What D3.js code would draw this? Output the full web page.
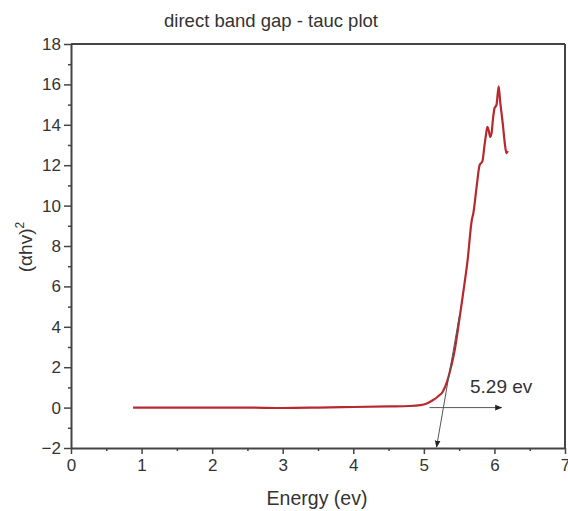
<!DOCTYPE html>
<html>
<head>
<meta charset="utf-8">
<script src="https://cdn.jsdelivr.net/npm/d3@7"></script>
<style>
  body { margin: 0; background: #fff; }
  text { font-family: "Liberation Sans", Arial, sans-serif; fill: #333; }
</style>
</head>
<body>
<div id="chart"></div>
<script>
// Tauc plot data
var energy = [0.88, 1.5, 2.0, 2.5, 3.0, 3.5, 4.0, 4.5, 4.8, 4.95, 5.05, 5.12, 5.2, 5.27, 5.33, 5.37, 5.44, 5.48, 5.55, 5.62, 5.68, 5.7, 5.75, 5.79, 5.83, 5.86, 5.88, 5.9, 5.92, 5.94, 5.96, 5.98, 6.0, 6.03, 6.06, 6.08, 6.12, 6.15, 6.17, 6.19];
var alphaHv2 = [0, 0, 0, 0, -0.02, 0, 0.03, 0.06, 0.08, 0.12, 0.22, 0.35, 0.55, 0.8, 1.3, 1.8, 2.9, 3.8, 5.5, 7.3, 9.3, 9.6, 11.0, 12.0, 12.2, 13.0, 13.5, 13.9, 13.7, 13.4, 13.6, 14.3, 14.8, 15.0, 15.9, 15.2, 14.0, 13.0, 12.6, 12.7];

// tangent extrapolation and the marker arrow
var tangentX = [5.18, 5.5];
var tangentY = [-1.95, 4.5];
var arrowX = [5.08, 6.1];
var arrowY = [0, 0];
var gapLabel = "5.29 ev";

var xTicks = [0, 1, 2, 3, 4, 5, 6, 7];
var yTicks = [-2, 0, 2, 4, 6, 8, 10, 12, 14, 16, 18];

var svgWidth = 568, svgHeight = 511;
var margin = { top: 44, right: 3, bottom: 63, left: 71 };
var chartWidth = svgWidth - margin.left - margin.right;
var chartHeight = svgHeight - margin.top - margin.bottom;

var svg = d3.select("#chart").append("svg")
  .attr("width", svgWidth)
  .attr("height", svgHeight);

svg.append("defs").append("marker")
  .attr("id", "arrow")
  .attr("viewBox", "0 0 10 10")
  .attr("refX", 9).attr("refY", 5)
  .attr("markerWidth", 7).attr("markerHeight", 7)
  .attr("orient", "auto")
  .append("path")
  .attr("d", "M0,1 L10,5 L0,9 Z")
  .attr("fill", "#222");

var g = svg.append("g")
  .attr("transform", `translate(${margin.left},${margin.top})`);

var xScale = d3.scaleLinear().domain([0, 7]).range([0, chartWidth]);
var yScale = d3.scaleLinear().domain([-2, 18]).range([chartHeight, 0]);

// minor ticks
g.append("g")
  .attr("transform", `translate(0,${chartHeight})`)
  .call(d3.axisBottom(xScale).tickValues(d3.range(0.5, 7, 1)).tickSize(3).tickFormat(""))
  .call(a => a.select(".domain").remove())
  .selectAll("line").attr("stroke", "#444").attr("stroke-width", 1.5);
g.append("g")
  .call(d3.axisLeft(yScale).tickValues(d3.range(-1, 18, 2)).tickSize(3).tickFormat(""))
  .call(a => a.select(".domain").remove())
  .selectAll("line").attr("stroke", "#444").attr("stroke-width", 1.5);

// major axes
var xAxis = g.append("g")
  .attr("transform", `translate(0,${chartHeight})`)
  .call(d3.axisBottom(xScale).tickValues(xTicks).tickSize(6).tickSizeOuter(0).tickPadding(5)
    .tickFormat(d3.format("d")));
var yAxis = g.append("g")
  .call(d3.axisLeft(yScale).tickValues(yTicks).tickSize(7).tickSizeOuter(0).tickPadding(3)
    .tickFormat(d3.format("d")));

[xAxis, yAxis].forEach(a => {
  a.selectAll("line").attr("stroke", "#444").attr("stroke-width", 1.5);
  a.select(".domain").attr("stroke", "#444").attr("stroke-width", 2);
  a.selectAll("text").attr("font-size", "17px").attr("fill", "#333")
    .attr("font-family", "Liberation Sans, Arial, sans-serif");
});

// top and right frame
g.append("line").attr("x1", 0).attr("x2", chartWidth).attr("y1", 0).attr("y2", 0)
  .attr("stroke", "#444").attr("stroke-width", 2);
g.append("line").attr("x1", chartWidth).attr("x2", chartWidth).attr("y1", 0).attr("y2", chartHeight)
  .attr("stroke", "#444").attr("stroke-width", 2);

// data curve
var data = energy.map((e, i) => ({ x: e, y: alphaHv2[i] }));
var line = d3.line().x(d => xScale(d.x)).y(d => yScale(d.y)).curve(d3.curveMonotoneX);

g.append("path")
  .datum(data)
  .attr("d", line)
  .attr("fill", "none")
  .attr("stroke", "#b8282e")
  .attr("stroke-width", 2.2)
  .attr("stroke-linejoin", "round");

// tangent line with arrow to the x axis
g.append("line")
  .attr("x1", xScale(tangentX[1])).attr("y1", yScale(tangentY[1]))
  .attr("x2", xScale(tangentX[0])).attr("y2", yScale(tangentY[0]))
  .attr("stroke", "#555").attr("stroke-width", 1)
  .attr("marker-end", "url(#arrow)");

g.append("line")
  .attr("x1", xScale(arrowX[0])).attr("y1", yScale(arrowY[0]))
  .attr("x2", xScale(arrowX[1])).attr("y2", yScale(arrowY[1]))
  .attr("stroke", "#555").attr("stroke-width", 1)
  .attr("marker-end", "url(#arrow)");

g.append("text")
  .attr("x", 470 - margin.left)
  .attr("y", 393 - margin.top)
  .attr("font-size", "19px")
  .text(gapLabel);

// titles
svg.append("text")
  .attr("x", 271).attr("y", 27)
  .attr("text-anchor", "middle")
  .attr("font-size", "18.5px")
  .text("direct band gap - tauc plot");

svg.append("text")
  .attr("x", 317).attr("y", 505)
  .attr("text-anchor", "middle")
  .attr("font-size", "19.5px")
  .text("Energy (ev)");

var yTitle = svg.append("text")
  .attr("transform", `translate(32, 247) rotate(-90)`)
  .attr("text-anchor", "middle")
  .attr("font-size", "19px");
yTitle.append("tspan").text("(\u03b1hv)");
yTitle.append("tspan").attr("dy", -8).attr("font-size", "12px").text("2");
</script>
</body>
</html>
